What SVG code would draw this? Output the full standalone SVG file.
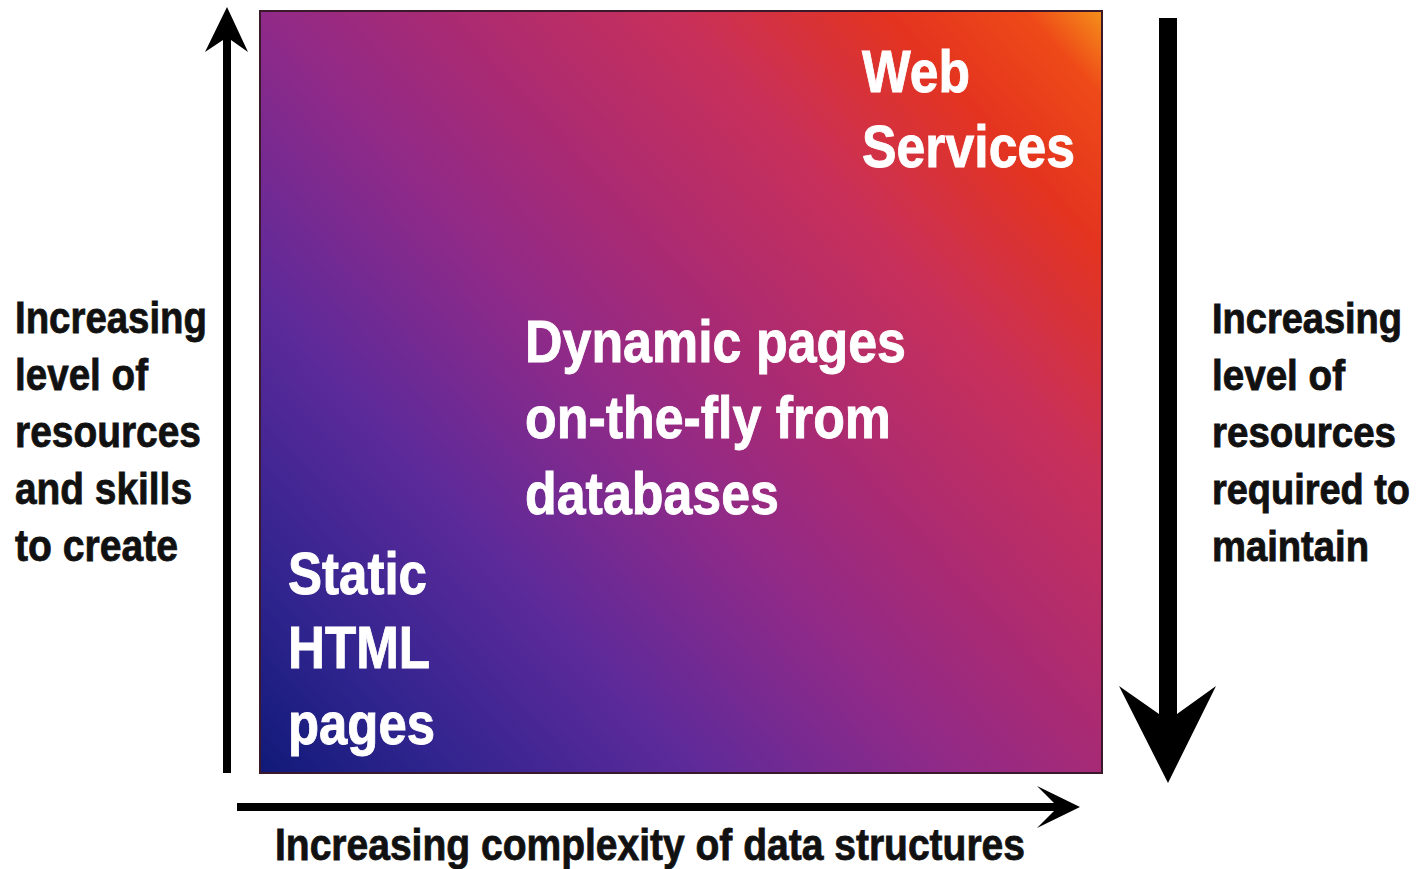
<svg xmlns="http://www.w3.org/2000/svg" width="1420" height="869" viewBox="0 0 1420 869">
<defs>
<linearGradient id="bg" gradientUnits="userSpaceOnUse" x1="260" y1="773" x2="1102" y2="11">
<stop offset="0" stop-color="#101a78"/>
<stop offset="0.12" stop-color="#30248e"/>
<stop offset="0.28" stop-color="#5c2a9a"/>
<stop offset="0.45" stop-color="#902a88"/>
<stop offset="0.56" stop-color="#a82a74"/>
<stop offset="0.72" stop-color="#c8305a"/>
<stop offset="0.86" stop-color="#e4341f"/>
<stop offset="0.95" stop-color="#ee4a18"/>
<stop offset="1" stop-color="#f5901a"/>
</linearGradient>
<style>
.lbl{font-family:"Liberation Sans",Arial,sans-serif;font-weight:bold;font-size:44px;fill:#111;stroke:#111;stroke-width:0.8}
.lbr{font-family:"Liberation Sans",Arial,sans-serif;font-weight:bold;font-size:38px;fill:#111;stroke:#111;stroke-width:0.8}
.in{font-family:"Liberation Sans",Arial,sans-serif;font-weight:bold;font-size:60px;fill:#fff;stroke:#fff;stroke-width:0.9}
.arr{fill:#000}
</style>
</defs>
<rect width="1420" height="869" fill="#fff"/>
<g id="panel">
<rect x="260" y="11" width="842" height="762" fill="url(#bg)" stroke="#3a1a2a" stroke-width="2"/>
</g>
<g id="web-services">
<text class="in" x="862" y="92" textLength="108" lengthAdjust="spacingAndGlyphs">Web</text>
<text class="in" x="862" y="167" textLength="213" lengthAdjust="spacingAndGlyphs">Services</text>
</g>
<g id="dynamic-pages">
<text class="in" x="525" y="362" textLength="381" lengthAdjust="spacingAndGlyphs">Dynamic pages</text>
<text class="in" x="525" y="438" textLength="366" lengthAdjust="spacingAndGlyphs">on-the-fly from</text>
<text class="in" x="525" y="514" textLength="254" lengthAdjust="spacingAndGlyphs">databases</text>
</g>
<g id="static-html">
<text class="in" x="288" y="594" textLength="139" lengthAdjust="spacingAndGlyphs">Static</text>
<text class="in" x="288" y="668" textLength="142" lengthAdjust="spacingAndGlyphs">HTML</text>
<text class="in" x="288" y="744" textLength="147" lengthAdjust="spacingAndGlyphs">pages</text>
</g>
<g id="connectors">
<path class="arr" d="M227,7 L248,52 L231,40 L231,773 L223,773 L223,40 L205,52 Z"/>
<path class="arr" d="M237,803 L1054,803 L1037,786 L1080,807 L1037,828 L1054,811 L237,811 Z"/>
<path class="arr" d="M1159,18 L1177,18 L1177,714 L1216,686 L1168,783 L1119,686 L1159,714 Z"/>
</g>
<g id="left-label">
<text class="lbl" x="15" y="333" textLength="192" lengthAdjust="spacingAndGlyphs">Increasing</text>
<text class="lbl" x="15" y="390" textLength="133" lengthAdjust="spacingAndGlyphs">level of</text>
<text class="lbl" x="15" y="447" textLength="186" lengthAdjust="spacingAndGlyphs">resources</text>
<text class="lbl" x="15" y="504" textLength="177" lengthAdjust="spacingAndGlyphs">and skills</text>
<text class="lbl" x="15" y="561" textLength="163" lengthAdjust="spacingAndGlyphs">to create</text>
</g>
<g id="right-label" transform="translate(0,447) scale(1,1.14) translate(0,-447)">
<text class="lbr" x="1212" y="347" textLength="190" lengthAdjust="spacingAndGlyphs">Increasing</text>
<text class="lbr" x="1212" y="397" textLength="133" lengthAdjust="spacingAndGlyphs">level of</text>
<text class="lbr" x="1212" y="447" textLength="184" lengthAdjust="spacingAndGlyphs">resources</text>
<text class="lbr" x="1212" y="497" textLength="198" lengthAdjust="spacingAndGlyphs">required to</text>
<text class="lbr" x="1212" y="547" textLength="157" lengthAdjust="spacingAndGlyphs">maintain</text>
</g>
<g id="bottom-label">
<text class="lbl" x="275" y="860" textLength="750" lengthAdjust="spacingAndGlyphs">Increasing complexity of data structures</text>
</g>
</svg>
